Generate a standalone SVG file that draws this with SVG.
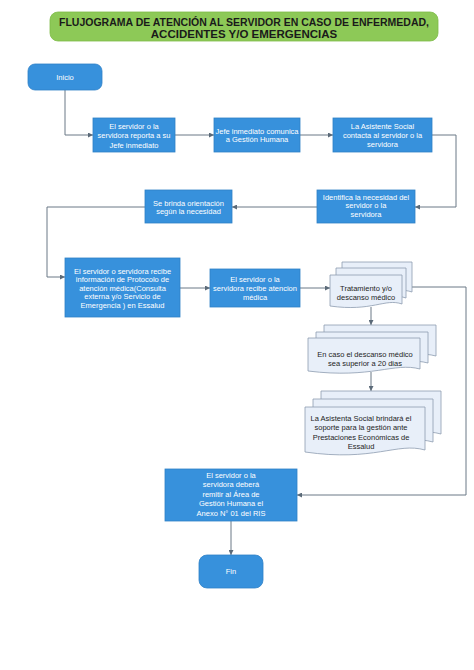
<svg xmlns="http://www.w3.org/2000/svg" width="474" height="670" viewBox="0 0 474 670">
<defs>
<marker id="ah" viewBox="0 0 6 6" refX="6" refY="3" markerWidth="5" markerHeight="5" orient="auto" markerUnits="userSpaceOnUse">
<path d="M0,0 L6,3 L0,6 Z" fill="#5b6a78"/>
</marker>
<style>
.box{fill:#3791dc;stroke:#2f80c6;stroke-width:0.8}
.t{font-family:"Liberation Sans",Arial,sans-serif;font-size:7.5px;fill:#ffffff;text-anchor:middle}
.d{font-family:"Liberation Sans",Arial,sans-serif;font-size:7.5px;fill:#1e1e1e;text-anchor:middle}
.doc{fill:#e8eff9;stroke:#8d9cb0;stroke-width:0.8}
.c{fill:none;stroke:#6b7886;stroke-width:1}
.title{font-family:"Liberation Sans",Arial,sans-serif;font-size:11.5px;font-weight:bold;fill:#1a1a1a;text-anchor:middle}
</style>
</defs>
<rect width="474" height="670" fill="#ffffff"/>

<g id="title">
<rect x="50" y="12" width="388" height="29" rx="8" fill="#8dc957" stroke="#7dbb48" stroke-width="0.8"/>
<text class="title" x="244" y="26" textLength="370" lengthAdjust="spacingAndGlyphs">FLUJOGRAMA DE ATENCIÓN AL SERVIDOR EN CASO DE ENFERMEDAD,</text>
<text class="title" x="244" y="37.5">ACCIDENTES Y/O EMERGENCIAS</text>
</g>

<g id="connectors">
<path class="c" d="M65,90 V135 H93" marker-end="url(#ah)"/>
<path class="c" d="M175,135 H214" marker-end="url(#ah)"/>
<path class="c" d="M300,135 H333" marker-end="url(#ah)"/>
<path class="c" d="M432,135 H456 V207 H415" marker-end="url(#ah)"/>
<path class="c" d="M317,207 H232" marker-end="url(#ah)"/>
<path class="c" d="M145,207 H47 V277 H65" marker-end="url(#ah)"/>
<path class="c" d="M180,288 H210" marker-end="url(#ah)"/>
<path class="c" d="M300,288 H330" marker-end="url(#ah)"/>
<path class="c" d="M371,307 V325" marker-end="url(#ah)"/>
<path class="c" d="M371,372 V391" marker-end="url(#ah)"/>
<path class="c" d="M412,287 H466 V495 H297" marker-end="url(#ah)"/>
<path class="c" d="M231,521 V555" marker-end="url(#ah)"/>
</g>

<g id="inicio">
<rect class="box" x="28" y="64" width="74" height="26" rx="7"/>
<text class="t" x="65" y="80">Inicio</text>
</g>

<g id="reporta">
<rect class="box" x="93" y="118" width="82" height="34"/>
<text class="t" x="134" y="128.5">El servidor o la</text>
<text class="t" x="134" y="138">servidora reporta a su</text>
<text class="t" x="134" y="147.5">Jefe inmediato</text>
</g>

<g id="comunica">
<rect class="box" x="214" y="118" width="86" height="34"/>
<text class="t" x="257" y="133.5">Jefe inmediato comunica</text>
<text class="t" x="257" y="142">a Gestión Humana</text>
</g>

<g id="contacta">
<rect class="box" x="333" y="118" width="99" height="34"/>
<text class="t" x="382.5" y="128.5">La Asistente Social</text>
<text class="t" x="382.5" y="137.5">contacta al servidor o la</text>
<text class="t" x="382.5" y="146.5">servidora</text>
</g>

<g id="identifica">
<rect class="box" x="317" y="190" width="98" height="33"/>
<text class="t" x="366" y="199.5">Identifica la necesidad del</text>
<text class="t" x="366" y="208">servidor o la</text>
<text class="t" x="366" y="216.5">servidora</text>
</g>

<g id="orientacion">
<rect class="box" x="145" y="190" width="87" height="33"/>
<text class="t" x="188.5" y="205.5">Se brinda orientación</text>
<text class="t" x="188.5" y="214">según la necesidad</text>
</g>

<g id="recibe-info">
<rect class="box" x="65" y="258" width="115" height="59"/>
<text class="t" x="122.5" y="273.5">El servidor o servidora recibe</text>
<text class="t" x="122.5" y="282">información de Protocolo de</text>
<text class="t" x="122.5" y="290.5">atención médica(Consulta</text>
<text class="t" x="122.5" y="299">externa y/o Servicio de</text>
<text class="t" x="122.5" y="307.5">Emergencia ) en Essalud</text>
</g>

<g id="recibe-atencion">
<rect class="box" x="210" y="269" width="90" height="38"/>
<text class="t" x="255" y="281.5">El servidor o la</text>
<text class="t" x="255" y="290.5">servidora recibe atencion</text>
<text class="t" x="255" y="299.5">médica</text>
</g>

<g id="tratamiento">
<path class="doc" d="M342,262 H412 V292 C395,286 382,300 342,294 Z"/>
<path class="doc" d="M336,268 H406 V298 C389,292 376,306 336,300 Z"/>
<path class="doc" d="M330,275 H402 V304 C385,298 372,312 330,306 Z"/>
<text class="d" x="366" y="291">Tratamiento y/o</text>
<text class="d" x="366" y="300">descanso médico</text>
</g>

<g id="descanso">
<path class="doc" d="M324,325 H436 V356 C410,349 388,366 324,358 Z"/>
<path class="doc" d="M316,332 H428 V363 C402,356 380,373 316,365 Z"/>
<path class="doc" d="M308,338 H420 V369 C394,362 372,379 308,371 Z"/>
<text class="d" x="365" y="356.5">En caso el descanso médico</text>
<text class="d" x="365" y="365.5">sea superior a 20 dias</text>
</g>

<g id="asistenta">
<path class="doc" d="M321,391 H441 V434 C413,426 390,446 321,436 Z"/>
<path class="doc" d="M313,399 H433 V442 C405,434 382,454 313,444 Z"/>
<path class="doc" d="M305,407 H425 V450 C397,442 374,462 305,452 Z"/>
<text class="d" x="361" y="420.5">La Asistenta Social brindará el</text>
<text class="d" x="361" y="430">soporte para la gestión ante</text>
<text class="d" x="361" y="439.5">Prestaciones Económicas de</text>
<text class="d" x="361" y="449">Essalud</text>
</g>

<g id="remitir">
<rect class="box" x="165" y="469" width="132" height="52"/>
<text class="t" x="231" y="477.5">El servidor o la</text>
<text class="t" x="231" y="487">servidora deberá</text>
<text class="t" x="231" y="496.5">remitir al Área de</text>
<text class="t" x="231" y="506">Gestión Humana el</text>
<text class="t" x="231" y="515.5">Anexo N° 01 del RIS</text>
</g>

<g id="fin">
<rect class="box" x="199" y="555" width="64" height="33" rx="8"/>
<text class="t" x="231" y="574">Fin</text>
</g>
</svg>
